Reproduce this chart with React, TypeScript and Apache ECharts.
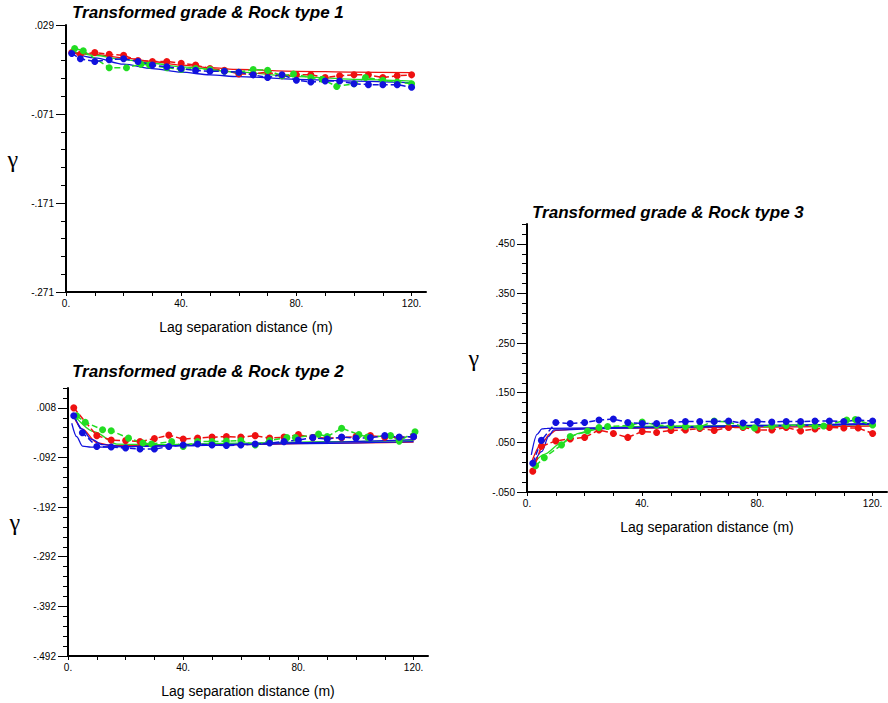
import React, { useEffect, useRef } from "react";
import * as echarts from "echarts";

// ---------- Panel 1 : Rock type 1 ----------
const lagRed1 = [2, 5, 10, 15, 20, 25, 30, 35, 40, 45, 50, 55, 60, 65, 70, 75, 80, 85, 90, 95, 100, 105, 110, 115, 120];
const red1 = [-0.002, -0.004, -0.002, -0.004, -0.005, -0.011, -0.012, -0.012, -0.014, -0.016, -0.020, -0.022, -0.026, -0.026, -0.024, -0.028, -0.027, -0.027, -0.030, -0.028, -0.027, -0.027, -0.030, -0.028, -0.027];
const lagBlue1 = [2, 5, 10, 15, 20, 25, 30, 35, 40, 45, 50, 55, 60, 65, 70, 75, 80, 85, 90, 95, 100, 105, 110, 115, 120];
const blue1 = [-0.003, -0.009, -0.012, -0.010, -0.009, -0.012, -0.016, -0.018, -0.020, -0.022, -0.023, -0.023, -0.024, -0.027, -0.030, -0.027, -0.033, -0.035, -0.034, -0.034, -0.037, -0.038, -0.038, -0.038, -0.041];
const lagGreen1 = [3, 6, 15, 21, 26, 29, 35, 40, 45, 50, 55, 60, 65, 70, 75, 79, 85, 89, 94, 100, 104, 110, 115, 120];
const green1 = [0.0025, 0.0, -0.019, -0.019, -0.015, -0.016, -0.019, -0.021, -0.020, -0.021, -0.023, -0.024, -0.021, -0.022, -0.028, -0.026, -0.030, -0.032, -0.040, -0.037, -0.030, -0.033, -0.035, -0.037];
const mLagRed1 = [1.5, 10, 20, 30, 40, 50, 60, 80, 100, 120];
const mRed1 = [-0.001, -0.004, -0.008, -0.012, -0.016, -0.019, -0.021, -0.023, -0.024, -0.0245];
const mLagBlue1 = [1.5, 10, 20, 30, 40, 50, 60, 80, 100, 120];
const mBlue1 = [-0.001, -0.008, -0.015, -0.020, -0.024, -0.027, -0.029, -0.032, -0.034, -0.036];
const mLagGreen1 = [1.5, 10, 20, 30, 40, 60, 80, 100, 120];
const mGreen1 = [0.0, -0.005, -0.010, -0.014, -0.018, -0.024, -0.029, -0.032, -0.034];
const yLabels1 = [-0.271, -0.171, -0.071, 0.029];

// ---------- Panel 2 : Rock type 2 ----------
const lagRed2 = [2, 10, 15, 20, 25, 30, 35, 40, 45, 50, 55, 60, 65, 70, 75, 80, 85, 90, 95, 100, 105, 110, 115, 120];
const red2 = [0.008, -0.048, -0.057, -0.058, -0.060, -0.054, -0.047, -0.055, -0.053, -0.051, -0.050, -0.051, -0.048, -0.053, -0.051, -0.046, -0.052, -0.053, -0.052, -0.050, -0.048, -0.051, -0.052, -0.050];
const lagBlue2 = [2, 5, 10, 15, 20, 25, 30, 35, 40, 45, 50, 55, 60, 65, 70, 75, 80, 85, 90, 95, 100, 105, 110, 115, 120];
const blue2 = [-0.008, -0.042, -0.070, -0.071, -0.073, -0.075, -0.075, -0.070, -0.067, -0.065, -0.067, -0.068, -0.067, -0.065, -0.063, -0.060, -0.057, -0.052, -0.055, -0.051, -0.053, -0.052, -0.048, -0.051, -0.050];
const lagGreen2 = [3, 6, 12, 15, 21, 26, 29, 36, 40, 45, 50, 55, 60, 65, 70, 76, 79, 87, 90, 95, 101, 104, 112, 115, 120.5];
const green2 = [-0.008, -0.021, -0.036, -0.038, -0.053, -0.063, -0.065, -0.060, -0.070, -0.060, -0.060, -0.059, -0.058, -0.067, -0.058, -0.052, -0.052, -0.045, -0.050, -0.033, -0.046, -0.051, -0.048, -0.059, -0.040];
const mLagBlueA2 = [1.3, 3, 5, 8, 40, 80, 120];
const mBlueA2 = [-0.023, -0.050, -0.069, -0.071, -0.068, -0.064, -0.060];
const mLagBlueB2 = [2, 5, 8, 12, 20, 40, 80, 120];
const mBlueB2 = [-0.006, -0.035, -0.055, -0.066, -0.070, -0.068, -0.062, -0.056];
const mLagRed2 = [2, 5, 10, 15, 30, 60, 90, 120];
const mRed2 = [-0.010, -0.035, -0.062, -0.068, -0.068, -0.066, -0.063, -0.061];
const mLagGreen2 = [2, 9, 17, 30, 60, 90, 120];
const mGreen2 = [-0.006, -0.040, -0.065, -0.066, -0.063, -0.060, -0.058];
const yLabels2 = [-0.492, -0.392, -0.292, -0.192, -0.092, 0.008];

// ---------- Panel 3 : Rock type 3 ----------
const lagBlue3 = [2, 5, 10, 15, 20, 25, 30, 35, 40, 45, 50, 55, 60, 65, 70, 75, 80, 85, 90, 95, 100, 105, 110, 115, 120];
const blue3 = [0.008, 0.054, 0.090, 0.088, 0.090, 0.095, 0.097, 0.090, 0.088, 0.088, 0.090, 0.092, 0.092, 0.092, 0.093, 0.089, 0.092, 0.091, 0.092, 0.092, 0.093, 0.093, 0.092, 0.095, 0.093];
const lagRed3 = [2, 5, 10, 15, 20, 25, 30, 35, 40, 45, 50, 55, 60, 65, 70, 75, 80, 85, 90, 95, 100, 105, 110, 115, 120];
const red3 = [-0.008, 0.042, 0.053, 0.057, 0.060, 0.075, 0.068, 0.060, 0.072, 0.070, 0.074, 0.075, 0.078, 0.074, 0.080, 0.080, 0.075, 0.075, 0.080, 0.073, 0.077, 0.080, 0.079, 0.079, 0.068];
const lagGreen3 = [3, 6, 12, 15, 21, 25, 28, 36, 40, 45, 50, 55, 60, 65, 70, 75, 79, 85, 90, 95, 100, 103, 111, 114, 120];
const green3 = [0.003, 0.019, 0.045, 0.062, 0.073, 0.080, 0.082, 0.084, 0.091, 0.085, 0.083, 0.082, 0.081, 0.093, 0.091, 0.082, 0.079, 0.083, 0.084, 0.085, 0.083, 0.083, 0.095, 0.096, 0.085];
const mLagBlueA3 = [1.5, 3.5, 5.2, 7, 40, 80, 120];
const mBlueA3 = [0.025, 0.066, 0.077, 0.078, 0.080, 0.084, 0.088];
const mLagBlueB3 = [2.3, 5.2, 7.5, 9.3, 40, 120];
const mBlueB3 = [0.007, 0.032, 0.062, 0.075, 0.080, 0.087];
const mLagRed3 = [1.7, 5, 8, 10, 20, 60, 120];
const mRed3 = [0.012, 0.047, 0.067, 0.074, 0.078, 0.080, 0.083];
const mLagGreen3 = [2, 6, 12, 18, 27, 40, 80, 120];
const mGreen3 = [0.005, 0.026, 0.049, 0.068, 0.080, 0.082, 0.084, 0.086];
const yLabels3 = [-0.05, 0.05, 0.15, 0.25, 0.35, 0.45];

const xLabels = [0, 40, 80, 120];
const xTicks = [0, 10, 20, 30, 40, 50, 60, 70, 80, 90, 100, 110, 120];

const RED = "#ee1111";
const GREEN = "#22dd22";
const BLUE = "#1111dd";
const FONT = "Liberation Sans, Arial, sans-serif";

const zip = (a: number[], b: number[]) => a.map((x, i) => [x, b[i]]);
const r3 = (v: number) => Math.round(v * 1000) / 1000;
const fmtY = (v: number) => r3(v).toFixed(3).replace(/^(-?)0\./, "$1.");

function minorTicks(min: number, max: number, step: number) {
  const out: number[] = [];
  for (let v = min; v <= max + 1e-9; v += step) out.push(r3(v));
  return out;
}

function xAxis(gridIndex: number) {
  return {
    type: "value",
    gridIndex,
    min: 0,
    max: 125,
    splitLine: { show: false },
    axisLine: { show: true, onZero: false, lineStyle: { color: "#000", width: 2 } },
    axisTick: { show: true, length: 4, customValues: xTicks, lineStyle: { color: "#000", width: 1 } },
    axisLabel: { customValues: xLabels, formatter: (v: number) => v + ".", fontSize: 10, color: "#000", margin: 6, fontFamily: FONT },
    name: "Lag separation distance (m)",
    nameLocation: "middle",
    nameGap: 28,
    nameTextStyle: { fontSize: 14, color: "#000", fontFamily: FONT },
  };
}

function yAxes(gridIndex: number, min: number, max: number, labels: number[], gammaLift: number) {
  return [
    {
      type: "value",
      gridIndex,
      min,
      max,
      position: "left",
      splitLine: { show: false },
      axisLine: { show: true, onZero: false, lineStyle: { color: "#000", width: 2 } },
      axisTick: { show: true, length: 10, customValues: labels, lineStyle: { color: "#000", width: 1 } },
      axisLabel: { customValues: labels, formatter: fmtY, fontSize: 10, color: "#000", margin: 12, fontFamily: FONT },
      name: "γ",
      nameLocation: "middle",
      nameRotate: 0,
      nameGap: 48,
      nameTextStyle: { fontSize: 24, color: "#000", fontFamily: "Liberation Serif, DejaVu Serif, serif", padding: [0, 0, gammaLift, 0] },
    },
    {
      type: "value",
      gridIndex,
      min,
      max,
      position: "left",
      splitLine: { show: false },
      axisLine: { show: false },
      axisTick: { show: true, length: 5, customValues: minorTicks(min, max, 0.02), lineStyle: { color: "#000", width: 1 } },
      axisLabel: { show: false },
    },
  ];
}

function expSeries(lags: number[], vals: number[], color: string, xi: number, yi: number) {
  return {
    type: "line",
    xAxisIndex: xi,
    yAxisIndex: yi,
    data: zip(lags, vals),
    symbol: "circle",
    symbolSize: 7,
    showSymbol: true,
    itemStyle: { color },
    lineStyle: { color, width: 1.5, type: [6, 3] },
    z: 3,
  };
}

function modelSeries(lags: number[], vals: number[], color: string, xi: number, yi: number) {
  return {
    type: "line",
    xAxisIndex: xi,
    yAxisIndex: yi,
    data: zip(lags, vals),
    symbol: "none",
    showSymbol: false,
    smooth: 0.3,
    smoothMonotone: "x",
    lineStyle: { color, width: 1.3 },
    z: 2,
  };
}

const titleStyle = { fontSize: 17, fontWeight: "bold", fontStyle: "italic", color: "#000", fontFamily: FONT };

export default function App() {
  const ref = useRef<HTMLDivElement>(null);
  useEffect(() => {
    if (!ref.current) return;
    const chart = echarts.init(ref.current, undefined, { renderer: "svg" });
    chart.setOption({
      animation: false,
      backgroundColor: "#fff",
      title: [
        { text: "Transformed grade & Rock type 1", left: 72, top: 4, padding: 0, textStyle: titleStyle },
        { text: "Transformed grade & Rock type 2", left: 72, top: 363, padding: 0, textStyle: titleStyle },
        { text: "Transformed grade & Rock type 3", left: 532, top: 204, padding: 0, textStyle: titleStyle },
      ],
      grid: [
        { left: 66, top: 25, width: 360, height: 267 },
        { left: 68, top: 388, width: 360, height: 268 },
        { left: 527, top: 224, width: 360, height: 268 },
      ],
      xAxis: [xAxis(0), xAxis(1), xAxis(2)],
      yAxis: [
        ...yAxes(0, -0.271, 0.029, yLabels1, 8),
        ...yAxes(1, -0.492, 0.048, yLabels2, 18),
        ...yAxes(2, -0.05, 0.49, yLabels3, 0),
      ],
      series: [
        modelSeries(mLagRed1, mRed1, RED, 0, 0),
        modelSeries(mLagGreen1, mGreen1, GREEN, 0, 0),
        modelSeries(mLagBlue1, mBlue1, BLUE, 0, 0),
        expSeries(lagRed1, red1, RED, 0, 0),
        expSeries(lagGreen1, green1, GREEN, 0, 0),
        expSeries(lagBlue1, blue1, BLUE, 0, 0),

        modelSeries(mLagRed2, mRed2, RED, 1, 2),
        modelSeries(mLagGreen2, mGreen2, GREEN, 1, 2),
        modelSeries(mLagBlueA2, mBlueA2, BLUE, 1, 2),
        modelSeries(mLagBlueB2, mBlueB2, BLUE, 1, 2),
        expSeries(lagRed2, red2, RED, 1, 2),
        expSeries(lagGreen2, green2, GREEN, 1, 2),
        expSeries(lagBlue2, blue2, BLUE, 1, 2),

        modelSeries(mLagRed3, mRed3, RED, 2, 4),
        modelSeries(mLagGreen3, mGreen3, GREEN, 2, 4),
        modelSeries(mLagBlueA3, mBlueA3, BLUE, 2, 4),
        modelSeries(mLagBlueB3, mBlueB3, BLUE, 2, 4),
        expSeries(lagRed3, red3, RED, 2, 4),
        expSeries(lagGreen3, green3, GREEN, 2, 4),
        expSeries(lagBlue3, blue3, BLUE, 2, 4),
      ],
    });
    return () => chart.dispose();
  }, []);
  return <div ref={ref} style={{ position: "absolute", left: 0, top: 0, width: 888, height: 703 }} />;
}
